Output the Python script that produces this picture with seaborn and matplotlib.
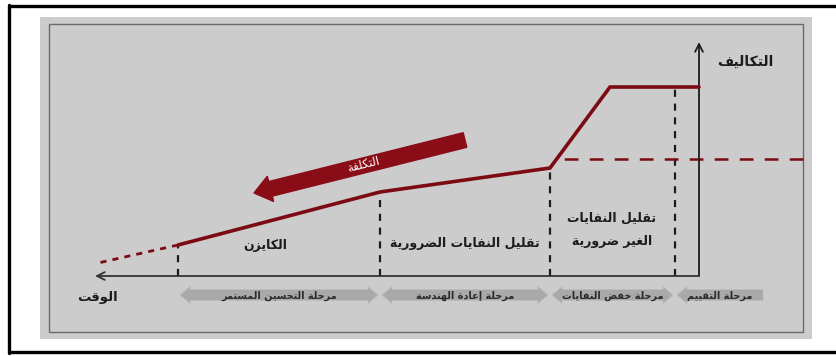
import numpy as np
import seaborn as sns
import matplotlib
matplotlib.use("Agg")
import matplotlib.pyplot as plt
from matplotlib.patches import Rectangle, Polygon, FancyArrow

# ---------------------------------------------------------------------------
# Data: time runs leftwards from the cost axis, cost rises from the time axis
# ---------------------------------------------------------------------------
curve_time = [0.0, 8.9, 14.9, 31.9, 52.1]
curve_cost = [18.9, 18.9, 10.8, 8.4, 3.1]
trend_time = [52.1, 60.1]
trend_cost = [3.1, 1.3]
reference_cost = 11.7
reference_span = [14.4, -10.4]

phase_edges = [52.1, 31.9, 14.9, 2.4]
phase_end = -6.4
phase_names = ["مرحلة التحسين المستمر", "مرحلة إعادة الهندسة",
               "مرحلة خفض النفايات", "مرحلة التقييم"]

stage_labels = ["الكايزن", "تقليل النفايات الضرورية", "تقليل النفايات\nالغير ضرورية"]
stage_label_t = [43.4, 23.4, 8.7]
stage_label_c = [3.1, 3.3, 4.6]

cost_axis_label = "التكاليف"
time_axis_label = "الوقت"
trend_arrow_label = "التكلفة"

RED = "#7c0a12"
ARROW_RED = "#8a0c16"
INK = "#1c1c1c"

# ---------------------------------------------------------------------------
# Arabic contextual shaping (presentation forms) + right-to-left ordering
# ---------------------------------------------------------------------------
_letters = "آأؤإئابةتثجحخدذرزسشصضطظعغفقكلمنهوىي"
_dual = set("ئبتثجحخسشصضطظعغفقكلمنهي")
_forms = {}
_cp = 0xFE81
for _ch in _letters:
    _n = 4 if _ch in _dual else 2
    _forms[_ch] = [chr(_cp + i) for i in range(_n)]
    _cp += _n
_lamalef = {"آ": 0xFEF5, "أ": 0xFEF7, "إ": 0xFEF9, "ا": 0xFEFB}


def _shape_line(text):
    toks = []
    i = 0
    while i < len(text):
        ch = text[i]
        if ch == "ل" and i + 1 < len(text) and text[i + 1] in _lamalef:
            b = _lamalef[text[i + 1]]
            toks.append([chr(b), chr(b + 1)])
            i += 2
        else:
            toks.append(_forms.get(ch, [ch]))
            i += 1
    out = []
    for k, f in enumerate(toks):
        prev = toks[k - 1] if k > 0 else None
        nxt = toks[k + 1] if k + 1 < len(toks) else None
        jp = len(f) >= 2 and prev is not None and len(prev) == 4
        jn = len(f) == 4 and nxt is not None and len(nxt) >= 2
        if jp and jn:
            out.append(f[3])
        elif jp:
            out.append(f[1])
        elif jn:
            out.append(f[2])
        else:
            out.append(f[0])
    return "".join(reversed(out))


def ar(text):
    return "\n".join(_shape_line(line) for line in text.split("\n"))


# ---------------------------------------------------------------------------
# Figure
# ---------------------------------------------------------------------------
sns.set_theme(style="white")
plt.rcParams["font.family"] = ["DejaVu Sans"]

W, H = 837, 356
fig = plt.figure(figsize=(W / 100, H / 100), dpi=100)
ax = fig.add_axes([0, 0, 1, 1])
ax.set_xlim(69.9, -13.8)
ax.set_ylim(-8.0, 27.6)
ax.set_axis_off()


def box(x0, y0, x1, y1):
    """Pixel box -> (x, y, w, h) in axes fraction."""
    return (x0 / W, (H - y1) / H, (x1 - x0) / W, (y1 - y0) / H)


# frames: outer border open on the right
for (x0, y0, x1, y1) in [(9, 6, 900, 6), (9, 352, 900, 352)]:
    ax.plot([x0 / W, x1 / W], [(H - y0) / H, (H - y1) / H], transform=ax.transAxes,
            color="black", lw=2.4, clip_on=False, zorder=0, solid_capstyle="butt")
ax.plot([9 / W, 9 / W], [(H - 5) / H, (H - 353) / H], transform=ax.transAxes,
        color="black", lw=2.4, clip_on=False, zorder=0)
bx = box(40, 17, 812, 339)
ax.add_patch(Rectangle(bx[:2], bx[2], bx[3], transform=ax.transAxes,
                       facecolor="#cccccc", edgecolor="none", zorder=0))
bx = box(49, 24, 803, 332)
ax.add_patch(Rectangle(bx[:2], bx[2], bx[3], transform=ax.transAxes, fill=False,
                       edgecolor="#6a6a6a", lw=1.0, zorder=0.5))

# axes arrows
ax.annotate("", xy=(0, 23.4), xytext=(0, 0),
            arrowprops=dict(arrowstyle="->", lw=1.3, color=INK, mutation_scale=14,
                            shrinkA=0, shrinkB=0), zorder=3)
ax.annotate("", xy=(60.4, 0), xytext=(0, 0),
            arrowprops=dict(arrowstyle="->", lw=1.3, color="#333333", mutation_scale=14,
                            shrinkA=0, shrinkB=0), zorder=3)

# dashed phase boundaries
heights = np.interp(phase_edges, curve_time, curve_cost)
ax.vlines(phase_edges, 0, heights, colors=INK, lw=1.6,
          linestyles=(0, (3.2, 3.0)), zorder=2)

# reference cost level
sns.lineplot(x=reference_span, y=[reference_cost] * 2, ax=ax, color=RED, lw=1.8,
             linestyle=(0, (5.5, 4.5)), zorder=2)

# cost curve and its earlier trend
sns.lineplot(x=curve_time, y=curve_cost, ax=ax, color=RED, lw=2.6,
             solid_joinstyle="miter", zorder=4)
sns.lineplot(x=trend_time, y=trend_cost, ax=ax, color=RED, lw=2.0,
             linestyle=(0, (2.2, 2.2)), zorder=4)

# big falling-cost arrow
tail = (23.4, 13.6)
tip = (44.5, 8.3)
ax.add_patch(FancyArrow(tail[0], tail[1], tip[0] - tail[0], tip[1] - tail[1],
                        width=1.5, head_width=2.6, head_length=1.7,
                        length_includes_head=True, color=ARROW_RED, zorder=3))
ax.text(33.6, 11.1, ar(trend_arrow_label), rotation=14, color="white",
        fontsize=8.5, ha="center", va="center", zorder=5, rotation_mode="anchor")

# stage labels
for lab, t, c in zip(stage_labels, stage_label_t, stage_label_c):
    ax.text(t, c, ar(lab), ha="center", va="center", fontsize=9, fontweight="bold",
            color=INK, linespacing=2.0, zorder=5)

# axis labels
ax.text(-4.6, 21.4, ar(cost_axis_label), ha="center", va="center", fontsize=10,
        fontweight="bold", color=INK)
ax.text(60.2, -2.2, ar(time_axis_label), ha="center", va="center", fontsize=9.5,
        fontweight="bold", color=INK)

# phase bars
starts = phase_edges
ends = phase_edges[1:] + [phase_end]
c0, hb, hh, hl, gap = -1.9, 0.55, 0.85, 1.0, 0.2
for k, (t0, t1, name) in enumerate(zip(starts, ends, phase_names)):
    a, b = t0 - gap, t1 + gap
    if k < len(phase_names) - 1:
        pts = [(a, c0), (a - hl, c0 + hh), (a - hl, c0 + hb), (b + hl, c0 + hb),
               (b + hl, c0 + hh), (b, c0), (b + hl, c0 - hh), (b + hl, c0 - hb),
               (a - hl, c0 - hb), (a - hl, c0 - hh)]
    else:
        b = t1
        pts = [(a, c0), (a - hl, c0 + hh), (a - hl, c0 + hb), (b, c0 + hb),
               (b, c0 - hb), (a - hl, c0 - hb), (a - hl, c0 - hh)]
    ax.add_patch(Polygon(pts, closed=True, facecolor="#a9a9a9", edgecolor="#bcbcbc",
                         lw=0.6, zorder=2))
    ax.text((a + b) / 2, c0 - 0.05, ar(name), ha="center", va="center", fontsize=7,
            fontweight="bold", color="#2a2a2a", zorder=3)

fig.savefig("out.png", dpi=100, facecolor="white")
